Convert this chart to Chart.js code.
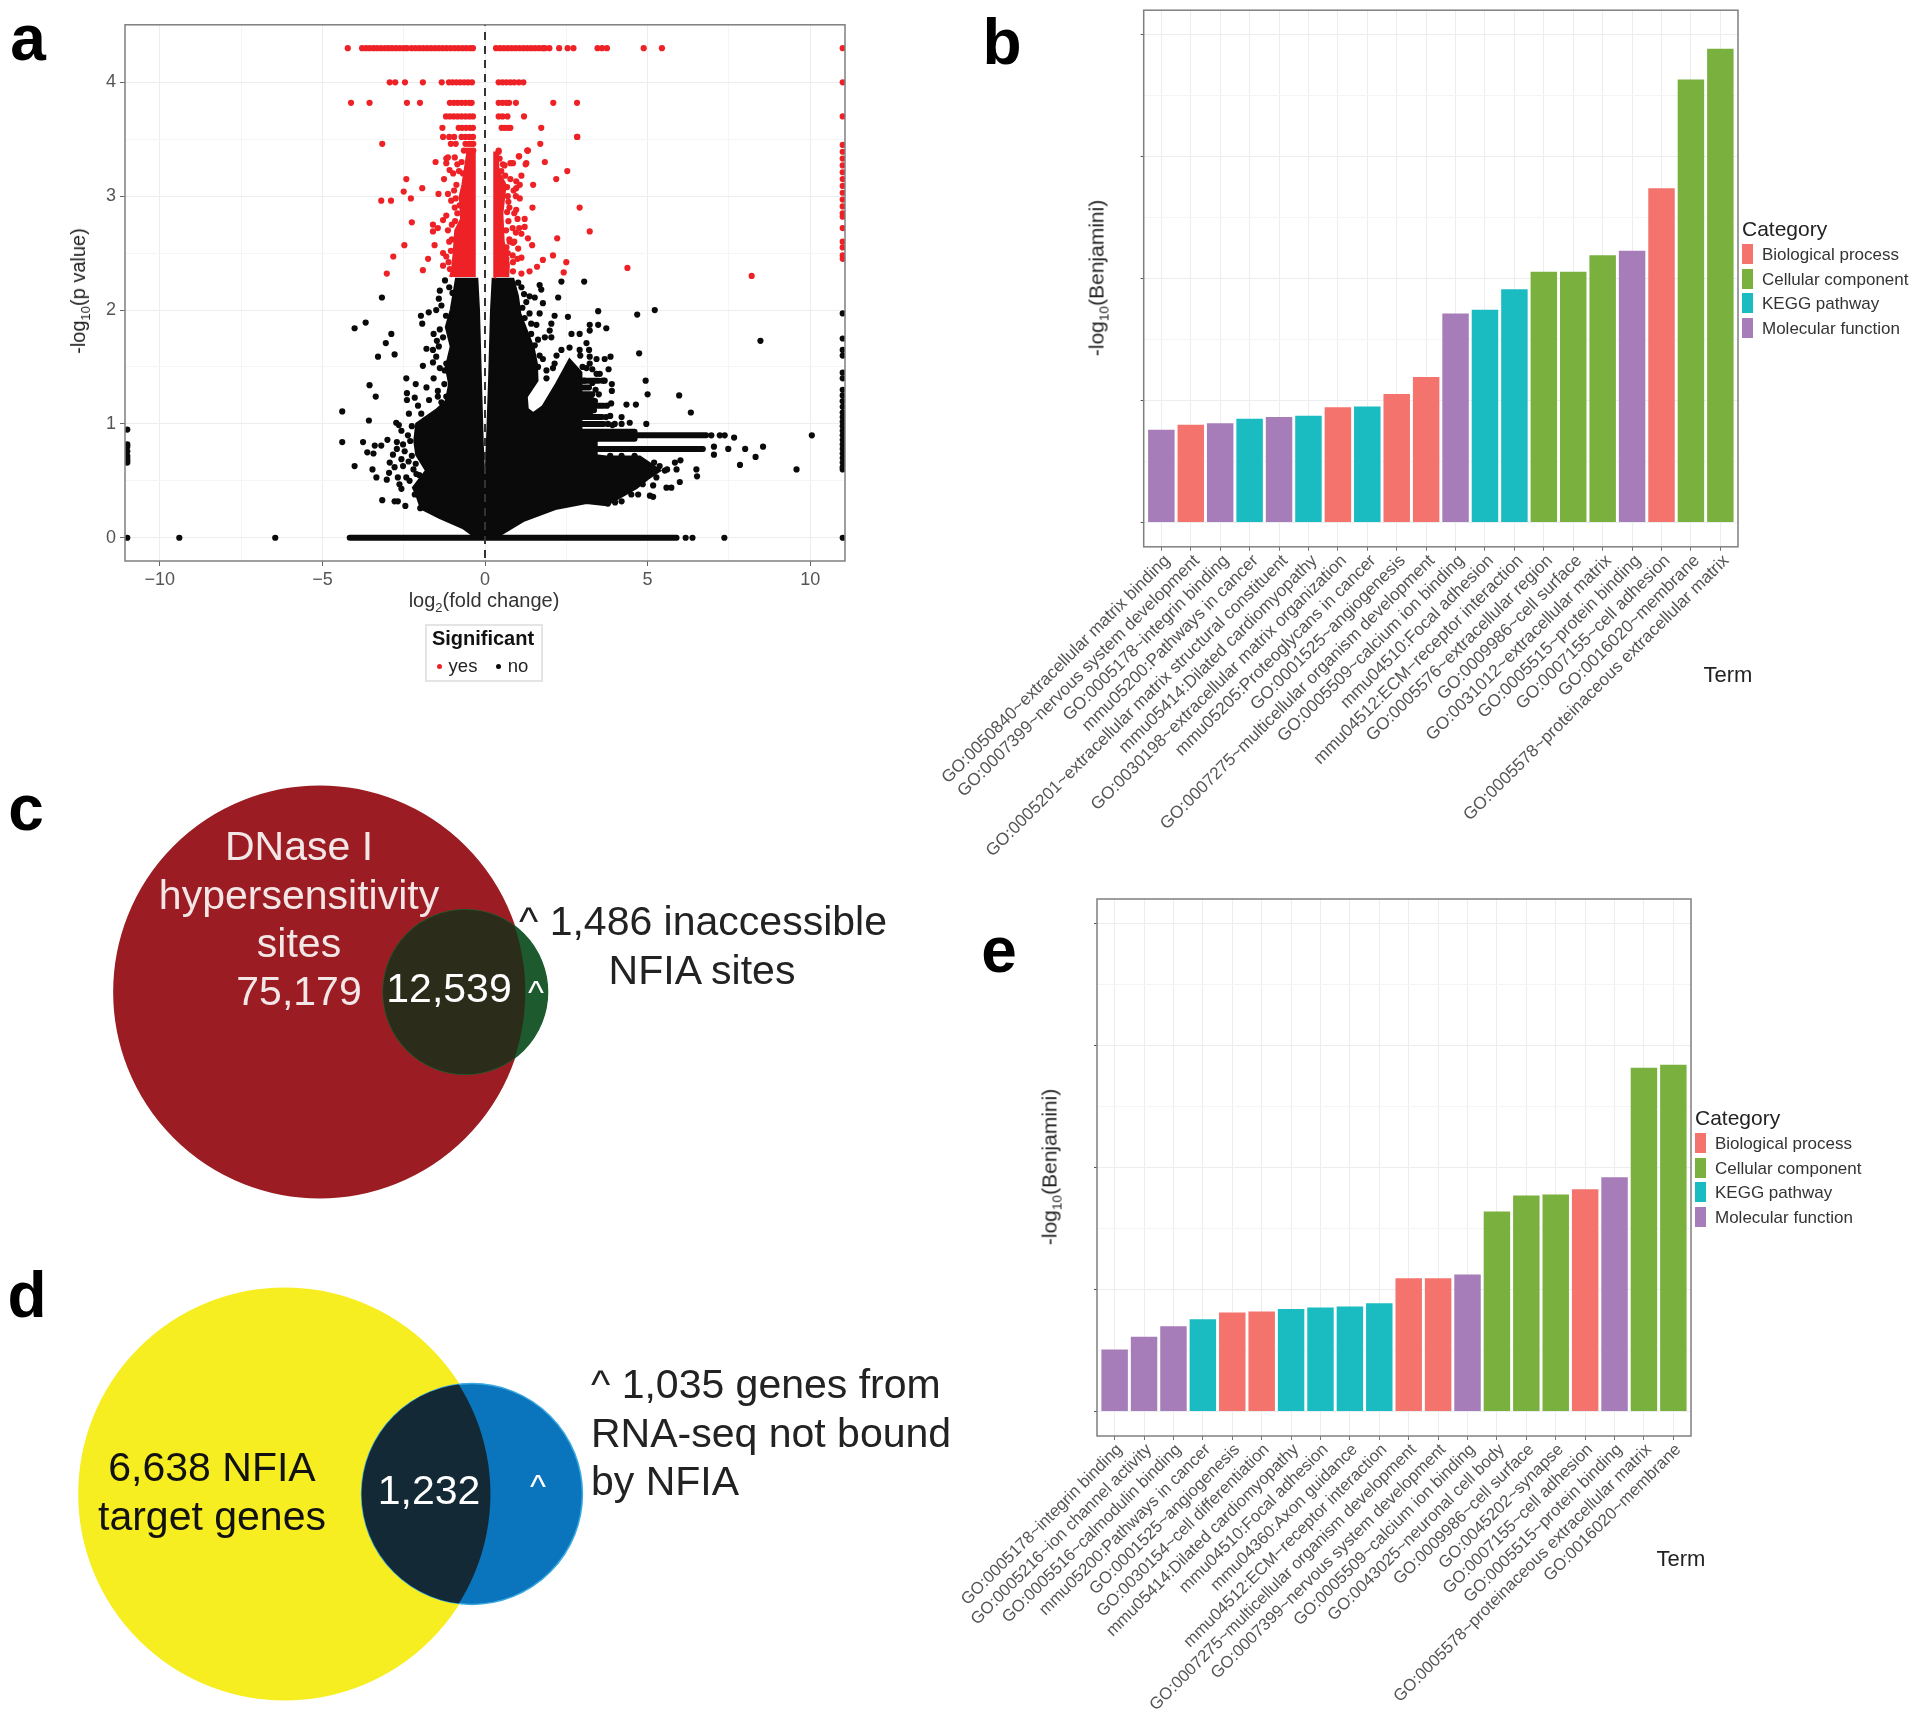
<!DOCTYPE html>
<html>
<head>
<meta charset="utf-8">
<style>
  html, body { margin: 0; padding: 0; background: #fff; }
  body { position: relative; width: 1920px; height: 1723px; overflow: hidden; font-family: "Liberation Sans", Arial, sans-serif; }
  canvas { position: absolute; }
  .txt { position: absolute; white-space: nowrap; line-height: 1; }
  .swatch { position: absolute; width: 11px; height: 20px; }
  .legbox { position: absolute; border: 2px solid #e4e4e4; box-sizing: border-box; }
  .dot { position: absolute; width: 5px; height: 5px; border-radius: 50%; }
</style>
<script src="https://cdn.jsdelivr.net/npm/chart.js@4/dist/chart.umd.min.js"></script>
</head>
<body>
<canvas id="chartA" width="800" height="600" style="left:60px;top:10px"></canvas>
<canvas id="chartB" width="860" height="900" style="left:900px;top:0px"></canvas>
<canvas id="chartE" width="790" height="843" style="left:920px;top:880px"></canvas>
<canvas id="vennC" width="480" height="460" style="left:100px;top:762px"></canvas>
<canvas id="vennD" width="560" height="460" style="left:60px;top:1264px"></canvas>
<script>
// --- panel a: volcano plot, rows of significant genes (x values at one y)
const yesRowYs = [4.3, 4.0, 3.82, 3.7, 3.6, 3.52, 3.46, 3.4];
const yesRows = [
  [-4.22,-3.78,-3.66,-3.55,-3.43,-3.32,-3.2,-3.08,-2.97,-2.86,-2.74,-2.62,-2.5,-2.4,-2.26,-2.14,-2.02,-1.9,-1.78,-1.66,-1.54,-1.42,-1.3,-1.18,-1.06,-.94,-.82,-.7,-.58,-.46,-.37,.34,.46,.58,.7,.82,.94,1.06,1.18,1.3,1.42,1.54,1.66,1.78,1.84,1.98,2.28,2.54,2.72,3.46,3.6,3.75,4.88,5.44],
  [-2.93,-2.76,-2.46,-1.91,-1.33,-1.11,-1,-.88,-.76,-.64,-.52,-.4,.42,.54,.66,.78,.9,1.04,1.18],
  [-4.12,-3.55,-2.4,-2,-1.08,-.96,-.84,-.72,-.6,-.48,-.41,.42,.54,.66,.74,.95,2.1,2.83],
  [-1.2,-1.08,-.96,-.84,-.72,-.6,-.48,-.37,.42,.54,.69,1.2],
  [-1.31,-.81,-.7,-.58,-.46,-.37,.51,.6,.7,.78,1.73],
  [-1.29,-1.1,-.95,-.72,-.6,-.48,-.37,2.83],
  [-3.16,-1.05,-.9,-.6,-.5,-.42,-.36,1.7],
  [-.65,-.55,-.45,-.36,.42,1.3]
];
const yesScatter = [
  [-1.52,3.3],[-2.42,3.15],[-2.5,3.04],[-1.93,3.07],[-2.28,2.98],[-3.19,2.96],[-2.89,2.96],[-1.43,3.02],[-1.26,3.15],[-2.25,2.77],[-1.6,2.75],[-1.29,2.79],[-1.14,2.7],[-1.6,2.69],[-1.19,2.83],[-1.55,2.57],[-2.48,2.57],[-2.82,2.47],[-1.75,2.45],[-1.29,2.5],[-1.19,2.47],[-1.29,2.39],[-1.91,2.35],[-3.02,2.32],
  [-1.19,3.33],[-1.19,3.29],[-1.09,3.23],[-1.14,3.34],[-.93,3.34],[-.98,3.2],[-.88,3.1],[-1.14,3.02],[-1.04,2.96],[-.93,2.9],[-1.45,2.72],[-1.02,2.75],[-1.1,2.6],[-1.12,2.42],[-.85,3.28],[-.72,3.3],[-.8,3.22],[-.68,3.2],[-.95,3.05],[-.9,2.98],[-.85,2.85],[-.78,2.92],[-.92,2.78],[-1.02,2.62],[-1.05,2.52],[-1.08,2.36],
  [.42,3.39],[.45,3.33],[.6,3.27],[.78,3.29],[1.04,3.35],[1.31,3.4],[1.25,3.28],[.86,3.29],[1.27,3.29],[1.32,3.4],[1.05,3.35],[1.12,3.18],[.96,3.13],[1.07,3.1],[.96,3.07],[1.48,3.1],[1.07,2.98],[1.46,2.9],[.96,2.88],[1.22,2.8],[1.22,2.73],[1.12,2.67],[1.32,2.63],[1.45,2.57],[1.02,2.54],[.86,2.59],[.76,2.6],[1.12,2.46],[.86,2.42],[.66,2.45],[.86,2.34],[1.12,2.32],[1.37,2.34],[1.6,2.38],[1.78,2.44],[2.09,2.48],[2.19,3.15],[2.53,3.22],[1.84,3.3],[2.84,3.52],[2.91,2.9],[3.22,2.69],[2.22,2.63],[2.5,2.42],[2.42,2.33],[4.38,2.37],[8.2,2.3],
  [.78,3.15],[.88,3.05],[.7,3.0],[.95,3.0],[.75,2.9],[.9,2.85],[1.0,2.8],[.72,2.78],[.85,2.72],[1.05,2.72],[.95,2.68],[.75,2.62],[.9,2.6],[.7,2.5],[.85,2.48],[1.0,2.45],[.62,3.18],[.68,3.08],[.65,2.7],[.55,3.28],[.5,3.22],[.72,2.95],[.68,2.86],[.66,2.55]
];
const yesEdgeYs = [4.3,4.0,3.7,3.45,3.39,3.33,3.27,3.21,3.15,3.09,3.03,2.97,2.91,2.85,2.82,2.72,2.6,2.55,2.48,2.45];
// filled outline of the solid red columns
const yesCoreLeft = [[-.33,2.29],[-.33,3.4],[-.52,3.4],[-.6,3.25],[-.68,3.1],[-.76,3.0],[-.72,2.8],[-.9,2.7],[-.95,2.5],[-1,2.35],[-1.06,2.29]];
const yesCoreRight = [[.28,2.29],[.3,3.38],[.38,3.38],[.4,3.22],[.62,3.1],[.58,3],[.52,2.85],[.56,2.6],[.72,2.4],[.7,2.29]];
// filled outline of the solid black mass
const noCore = [[0,.44],[.03,.5],[.07,.8],[.14,1.38],[.2,2],[.25,2.27],[.86,2.27],[1,2.12],[1.07,1.97],[1.27,1.82],[1.48,1.67],[1.58,1.53],[1.6,1.38],[1.27,1.24],[1.3,1.13],[1.48,1.09],[1.78,1.15],[2.2,1.35],[2.6,1.56],[2.95,1.45],[2.95,.95],[3.42,.85],[3.42,.72],[3.73,.71],[4.76,.71],[5.37,.59],[5,.52],[4.65,.44],[3.73,.29],[3.12,.31],[2.2,.26],[1.17,.15],[.3,0],[-.32,.015],[-.68,.09],[-1.4,.18],[-1.96,.26],[-2.1,.38],[-2.2,.44],[-1.8,.59],[-2.1,.73],[-2.16,.85],[-2.1,1],[-1.5,1.12],[-1.19,1.2],[-1.09,1.35],[-1.19,1.5],[-1.04,1.68],[-1.19,1.85],[-1.04,2],[-.88,2.27],[-.25,2.27],[-.2,2],[-.14,1.38],[-.08,.8],[-.03,.5]];
// horizontal pile-ups of black points: y, from x, to x
const noStreaks = [[0,-4.16,5.89],[.9,2.7,6.8],[.93,2.7,4.6],[.87,2.7,4.6],[.78,3.42,6.7],[1.38,2.8,3.5],[1.26,2.8,3.3],[1.16,2.7,3.65],[1.06,2.85,3.6],[1,2.8,3.65],[1.32,2.8,3.2],[1.21,2.8,3.3],[1.11,2.8,3.25]];
const noScatter = [
  [-3.17,2.11],[-4.01,1.84],[-3.67,1.89],[-2.88,1.79],[-3.05,1.71],[-3.29,1.59],[-2.78,1.61],[-3.55,1.34],[-3.36,1.24],[-4.39,1.11],[-3.57,1.03],[-4.39,.84],[-3.75,.84],[-3.39,.81],[-3.19,.81],[-3,.86],[-3.62,.75],[-3.43,.74],[-4.01,.63],[-3.46,.6],[-3.34,.53],[-3.02,.51],[-2.95,.57],[-3.16,.33],[-2.78,.32],[-2.68,.32],[-2.45,.28],[-1.99,.26],
  [-2.42,1.4],[-2.13,1.35],[-2.4,1.27],[-2.4,1.21],[-1.8,1.32],[-1.58,1.4],[-1.91,1.51],[-1.45,1.29],[-1.45,1.24],[-2.16,1.23],[-1.72,1.21],[-1.34,1.19],[-1.19,1.24],[-2.34,1.09],[-2.06,1.16],[-1.96,1.09],[-1.86,1.03],[-2.73,1.01],[-2.65,.99],[-2.57,.94],[-2.37,.9],[-2.71,.84],[-2.52,.82],[-2.71,.78],[-2.83,.73],[-2.47,.76],[-2.57,.69],[-2.93,.66],[-2.78,.62],[-2.52,.63],[-2.13,.65],[-2.68,.53],[-2.42,.53],[-2.63,.47],[-2.57,.43],[-2.11,.56],[-2.32,.5],[-2.16,.38],[-2.35,.67],[-2.3,.85],[-2.25,.98],[-2.2,.6],[-2.02,.55],[-2,.47],[-2.25,.72],
  [-1.58,1.79],[-1.39,1.83],[-1.48,1.73],[-1.29,1.76],[-1.42,1.68],[-1.8,1.66],[-1.6,1.65],[-1.5,1.59],[-1.6,1.54],[-1.39,1.49],[-1.19,1.53],[-1.24,1.47],[-1.97,1.95],[-1.93,1.88],[-1.73,1.98],[-1.5,2],[-1.39,2.17],[-1.42,2.1],[-1.34,2.04],[-1.23,2.26],[-1,2.15],[-1.2,1.95],[-1.25,1.35],[-1.1,2.2],
  [2.35,2.25],[3.05,2.25],[2.25,2.11],[3.48,1.99],[4.68,1.96],[5.22,2],[8.47,1.73],[2.55,1.94],[2.14,1.95],[2.04,1.88],[1.99,1.82],[2.04,1.76],[1.84,1.76],[3.22,1.87],[3.48,1.87],[3.73,1.84],[3.22,1.82],[3.12,1.71],[2.66,1.79],[2.91,1.79],[1.68,2.22],[1.73,2.18],[1.53,2.11],[1.37,2.12],[1.78,2.06],[1.27,2.07],[1.68,1.97],[1.37,1.97],[1.42,1.88],[1.58,1.87],[1.42,1.79],[1.63,1.74],[1.53,1.69],[1.12,2.2],[1.02,2.24],[1.2,2.14],[1.22,1.93],[1.15,2.02],
  [2.2,1.6],[2.35,1.65],[2.6,1.67],[2.14,1.53],[2.09,1.49],[2.91,1.65],[2.93,1.6],[3.2,1.65],[3.22,1.59],[3.43,1.57],[3.68,1.57],[3.86,1.59],[3.22,1.53],[3.12,1.49],[3.43,1.44],[3.8,1.48],[3.53,1.44],[3.68,1.38],[3.9,1.35],[3.9,1.29],[1.68,1.6],[1.78,1.57],[1.63,1.5],[1.89,1.47],[1.89,1.4],[3,1.5],[3.3,1.48],[3.05,1.38],[3.62,1.38],[3.5,1.26],[3.4,1.3],[3.75,1.16],[3.88,1.18],[3.72,1.06],[3.85,1.07],[3.78,1.0],[3.92,.99],[3.3,1.36],[3.38,1.2],[3.35,1.12],
  [4.94,1.38],[5,1.26],[5.97,1.25],[6.33,1.1],[4.74,1.62],[4.35,1.17],[4.64,1.17],[4.2,1.06],[4.45,1.01],[4.2,1],[3.99,1],[4.96,1],
  [6.96,.9],[7.22,.9],[7.37,.9],[7.66,.88],[7.04,.8],[7.48,.78],[8,.78],[8.55,.8],[7.04,.73],[8.32,.71],[7.84,.64],[10.05,.9],[9.58,.6],
  [5.84,.66],[6.01,.68],[5.89,.6],[6.5,.6],[6.52,.54],[5.99,.49],[5.58,.44],[5.73,.44],[5.17,.46],[5.07,.37],[5.17,.36],[4.71,.38],[4.2,.32],[3.78,.3],[5.37,.63],[5.53,.59],[5.27,.53],[4.91,.53],[5.1,.6],[4.9,.66],[5.6,.6],[4.5,.38],[4,.31],[4.35,.42],[4.85,.47],[5.2,.66],[4.6,.72],[4.2,.72],[3.85,.72]
];
const noEdgeRightYs = [1.97,1.75,1.65,1.6,1.45,1.4,1.3,1.25,1.2,1.15,1.1,1.06,1.02,.98,.94,.9,.86,.82,.78,.74,.7,.66,.62,.6,0];
const noEdgeLeftYs = [.95,.82,.8,.76,.72,.7,.68,.66,0];
const noLoneX = [-9.4,-6.45,6.17,6.38,7.36];
const volcanoXTicks = [-10,-7.5,-5,-2.5,0,2.5,5,7.5,10];
const volcanoYTicks = [0,.5,1,1.5,2,2.5,3,3.5,4];

// --- panels b and e: enrichment bars
const catNames = ["Biological process","Cellular component","KEGG pathway","Molecular function"];
const catColors = { B: "#f4736d", C: "#7ab03e", K: "#1abcc2", M: "#a67db8" };
const termsB = ["GO:0050840~extracellular matrix binding","GO:0007399~nervous system development","GO:0005178~integrin binding","mmu05200:Pathways in cancer","GO:0005201~extracellular matrix structural constituent","mmu05414:Dilated cardiomyopathy","GO:0030198~extracellular matrix organization","mmu05205:Proteoglycans in cancer","GO:0001525~angiogenesis","GO:0007275~multicellular organism development","GO:0005509~calcium ion binding","mmu04510:Focal adhesion","mmu04512:ECM\u2212receptor interaction","GO:0005576~extracellular region","GO:0009986~cell surface","GO:0031012~extracellular matrix","GO:0005515~protein binding","GO:0007155~cell adhesion","GO:0016020~membrane","GO:0005578~proteinaceous extracellular matrix"];
const valuesB = [.76,.801,.813,.851,.865,.874,.944,.95,1.053,1.193,1.713,1.743,1.912,2.056,2.056,2.19,2.228,2.74,3.632,3.883];
const catsB = ["M","B","M","K","M","K","B","K","B","B","M","K","K","C","C","C","M","B","C","C"];
const termsE = ["GO:0005178~integrin binding","GO:0005216~ion channel activity","GO:0005516~calmodulin binding","mmu05200:Pathways in cancer","GO:0001525~angiogenesis","GO:0030154~cell differentiation","mmu05414:Dilated cardiomyopathy","mmu04510:Focal adhesion","mmu04360:Axon guidance","mmu04512:ECM\u2212receptor interaction","GO:0007275~multicellular organism development","GO:0007399~nervous system development","GO:0005509~calcium ion binding","GO:0043025~neuronal cell body","GO:0009986~cell surface","GO:0045202~synapse","GO:0007155~cell adhesion","GO:0005515~protein binding","GO:0005578~proteinaceous extracellular matrix","GO:0016020~membrane"];
const valuesE = [.508,.614,.699,.756,.811,.82,.841,.853,.862,.887,1.092,1.092,1.123,1.64,1.77,1.779,1.821,1.921,2.817,2.841];
const catsE = ["M","M","M","K","B","B","K","K","K","K","B","B","M","C","C","C","B","M","C","C"];
const benjaminiTicks = [0,.5,1,1.5,2,2.5,3,3.5,4];

// --- panels c and d: area-proportional Venn diagrams (set sizes)
const vennCSizes = [87718, 14025];
const vennCX = [0, 145.7];
const vennDSizes = [7870, 2267];
const vennDX = [0, 187.3];

const FONT = '"Liberation Sans", Arial, sans-serif';
const GRID_MAJOR = "#ebeef0";
const GRID_MINOR = "#f4f5f6";
const TICK_TEXT = "#555";
const BOX = "#7f7f7f";

Chart.defaults.font.family = FONT;
Chart.defaults.animation = false;

// ggplot style panel border
const panelBox = {
  id: "panelBox",
  afterDraw(chart) {
    const { ctx, chartArea: a } = chart;
    ctx.save();
    ctx.strokeStyle = BOX;
    ctx.lineWidth = 1.5;
    ctx.strokeRect(a.left, a.top, a.right - a.left, a.bottom - a.top);
    ctx.restore();
  },
};

function xy(pairs) {
  return pairs.map(([x, y]) => ({ x, y }));
}

function shape(pairs, color) {
  return { data: xy(pairs), showLine: true, fill: "shape", backgroundColor: color, borderColor: color, borderWidth: 3, pointRadius: 0 };
}

function dots(points, color) {
  return { data: points, showLine: false, backgroundColor: color, borderWidth: 0, pointRadius: 3.1 };
}

const yesPoints = [];
yesRows.forEach((xs, i) => xs.forEach((x) => yesPoints.push({ x, y: yesRowYs[i] })));
const streakPoints = [];
noStreaks.forEach(([y, a, b]) => streakPoints.push({ x: a, y }, { x: b, y }, { x: NaN, y: NaN }));

new Chart(document.getElementById("chartA"), {
  type: "scatter",
  data: {
    datasets: [
      { data: [{ x: 0, y: -0.3 }, { x: 0, y: 4.6 }], showLine: true, borderColor: "#333", borderWidth: 2, borderDash: [8, 6], pointRadius: 0 },
      dots(yesPoints, "#ee2226"),
      dots(xy(yesScatter), "#ee2226"),
      dots(yesEdgeYs.map((y) => ({ x: 11, y })), "#ee2226"),
      shape(yesCoreLeft, "#ee2226"),
      shape(yesCoreRight, "#ee2226"),
      dots(xy(noScatter), "#0a0a0a"),
      dots(noEdgeRightYs.map((y) => ({ x: 11, y })), "#0a0a0a"),
      dots(noEdgeLeftYs.map((y) => ({ x: -11, y })), "#0a0a0a"),
      dots(noLoneX.map((x) => ({ x, y: 0 })), "#0a0a0a"),
      { data: streakPoints, showLine: true, borderColor: "#0a0a0a", borderWidth: 6, borderCapStyle: "round", pointRadius: 0, spanGaps: false },
      shape(noCore, "#0a0a0a"),
    ],
  },
  options: {
    responsive: false,
    layout: { autoPadding: false, padding: { top: 14.5, right: 15 } },
    plugins: { legend: { display: false }, tooltip: { enabled: false } },
    scales: {
      x: {
        type: "linear", min: -11.07, max: 11.07,
        afterBuildTicks: (s) => { s.ticks = volcanoXTicks.map((value) => ({ value })); },
        afterFit: (s) => { s.height = 49; },
        border: { display: false },
        grid: {
          color: (c) => (c.tick.value % 5 === 0 ? GRID_MAJOR : GRID_MINOR),
          tickColor: (c) => (c.tick.value % 5 === 0 ? "#666" : "transparent"),
          tickLength: 5,
        },
        ticks: {
          autoSkip: false, maxRotation: 0, minRotation: 0, color: TICK_TEXT, font: { size: 18 }, padding: 3,
          callback: (v) => (v % 5 === 0 ? String(v).replace("-", "\u2212") : ""),
        },
      },
      y: {
        type: "linear", min: -0.204, max: 4.505,
        afterBuildTicks: (s) => { s.ticks = volcanoYTicks.map((value) => ({ value })); },
        afterFit: (s) => { s.width = 65; },
        border: { display: false },
        grid: {
          color: (c) => (c.tick.value % 1 === 0 ? GRID_MAJOR : GRID_MINOR),
          tickColor: (c) => (c.tick.value % 1 === 0 ? "#666" : "transparent"),
          tickLength: 5,
        },
        ticks: {
          autoSkip: false, color: TICK_TEXT, font: { size: 18 }, padding: 4,
          callback: (v) => (v % 1 === 0 ? String(v) : ""),
        },
      },
    },
  },
  plugins: [panelBox],
});

function enrichmentChart(id, terms, values, cats, areaLeft, areaTop, xHeight, right, labelSize, labelShift) {
  return new Chart(document.getElementById(id), {
    type: "bar",
    data: {
      datasets: [{
        data: values.map((y, i) => ({ x: i + 1, y })),
        backgroundColor: cats.map((c) => catColors[c]),
        barPercentage: 0.9,
        categoryPercentage: 1,
      }],
    },
    options: {
      responsive: false,
      layout: { autoPadding: false, padding: { top: areaTop, right } },
      plugins: { legend: { display: false }, tooltip: { enabled: false } },
      scales: {
        x: {
          type: "linear", min: 0.4, max: 20.6, offset: false,
          afterBuildTicks: (s) => { s.ticks = terms.map((_, i) => ({ value: i + 1 })); },
          afterFit: (s) => { s.height = xHeight; },
          border: { display: false },
          grid: { offset: false, color: GRID_MAJOR, tickColor: "#777", tickLength: 4 },
          ticks: {
            autoSkip: false, minRotation: 45, maxRotation: 45, color: TICK_TEXT, font: { size: labelSize }, padding: 0, labelOffset: labelShift,
            callback: (v) => terms[v - 1],
          },
        },
        y: {
          type: "linear", min: -0.2, max: 4.2,
          afterBuildTicks: (s) => { s.ticks = benjaminiTicks.map((value) => ({ value })); },
          afterFit: (s) => { s.width = areaLeft; },
          border: { display: false },
          grid: {
            color: (c) => (c.tick.value % 1 === 0 ? GRID_MAJOR : GRID_MINOR),
            tickColor: (c) => (c.tick.value % 1 === 0 ? "#555" : "transparent"),
            tickLength: 3,
          },
          ticks: { callback: () => "" },
        },
      },
    },
    plugins: [panelBox],
  });
}
enrichmentChart("chartB", termsB, valuesB, catsB, 243.7, 10, 353.2, 22, 17.3, 6);
enrichmentChart("chartE", termsE, valuesE, catsE, 177, 19, 287, 19, 16.8, 5);

// overlap of the two circles, clipped to the big one
function vennOverlap(color) {
  return {
    id: "vennOverlap",
    afterDatasetsDraw(chart) {
      const [a, b] = chart.getDatasetMeta(0).data;
      const { ctx } = chart;
      ctx.save();
      ctx.beginPath();
      ctx.arc(a.x, a.y, a.options.radius, 0, Math.PI * 2);
      ctx.clip();
      ctx.beginPath();
      ctx.arc(b.x, b.y, b.options.radius, 0, Math.PI * 2);
      ctx.fillStyle = color;
      ctx.fill();
      ctx.restore();
    },
  };
}

function vennChart(id, sizes, xs, unit, xMin, colors, edge, overlap) {
  const canvas = document.getElementById(id);
  return new Chart(canvas, {
    type: "bubble",
    data: {
      datasets: [{
        data: sizes.map((n, i) => ({ x: xs[i], y: 0, r: Math.sqrt(n) * unit })),
        backgroundColor: colors,
        borderColor: edge,
        borderWidth: 1.5,
        clip: false,
      }],
    },
    options: {
      responsive: false,
      layout: { autoPadding: false },
      plugins: { legend: { display: false }, tooltip: { enabled: false } },
      scales: {
        x: { type: "linear", display: false, min: xMin, max: xMin + canvas.width },
        y: { type: "linear", display: false, min: -230, max: 230 },
      },
    },
    plugins: [vennOverlap(overlap)],
  });
}
vennChart("vennC", vennCSizes, vennCX, 0.6945, -219.6, ["#9b1c22", "#1d5a2e"], ["#9b1c22", "#1d5a2e"], "#2c2c1a");
vennChart("vennD", vennDSizes, vennDX, 2.319, -224.7, ["#f6ee20", "#0a75bc"], ["#f6ee20", "#3aa9e0"], "#132936");

// --- text that sits outside the plots
function text(html, x, y, size, opts = {}) {
  const el = document.createElement("div");
  el.className = "txt";
  el.innerHTML = html;
  el.style.left = x + "px";
  el.style.top = y + "px";
  el.style.fontSize = size + "px";
  el.style.color = opts.color || "#000";
  if (opts.weight) el.style.fontWeight = opts.weight;
  const anchor = opts.left ? "0" : "-50%";
  el.style.transform = `translate(${anchor},-50%)` + (opts.rotate ? ` rotate(${opts.rotate}deg)` : "");
  document.body.appendChild(el);
}

const panelLetters = [["a", 28, 38], ["b", 1002, 42], ["c", 26, 808], ["d", 27, 1295], ["e", 999, 950]];
panelLetters.forEach(([t, x, y]) => text(t, x, y, 64, { weight: "bold" }));

const SUB = (s) => `<sub style="font-size:.65em;line-height:0">${s}</sub>`;
text(`log${SUB(2)}(fold change)`, 484, 600, 20, { color: "#333" });
text(`-log${SUB(10)}(p value)`, 78, 291, 20, { color: "#222", rotate: -90 });
text(`-log${SUB(10)}(Benjamini)`, 1096, 278, 21, { color: "#222", rotate: -90 });
text(`-log${SUB(10)}(Benjamini)`, 1049, 1167, 21, { color: "#222", rotate: -90 });
text("Term", 1728, 675, 22, { color: "#222" });
text("Term", 1681, 1559, 22, { color: "#222" });

// panel a legend
const box = document.createElement("div");
box.className = "legbox";
box.style.cssText = "left:425px;top:624px;width:118px;height:58px";
document.body.appendChild(box);
text("Significant", 483, 638, 20, { weight: "bold", color: "#111" });
text("yes", 463, 666, 18.5, { color: "#222" });
text("no", 518, 666, 18.5, { color: "#222" });
[["#ee2226", 437], ["#0a0a0a", 496]].forEach(([c, x]) => {
  const d = document.createElement("div");
  d.className = "dot";
  d.style.cssText = `left:${x}px;top:664px;background:${c}`;
  document.body.appendChild(d);
});

// category legends of b and e
function catLegend(x, titleY, ys) {
  text("Category", x, titleY, 21, { left: true, color: "#222" });
  catNames.forEach((name, i) => {
    const s = document.createElement("div");
    s.className = "swatch";
    s.style.left = x + "px";
    s.style.top = ys[i] - 10 + "px";
    s.style.background = catColors[["B", "C", "K", "M"][i]];
    document.body.appendChild(s);
    text(name, x + 20, ys[i], 17, { left: true, color: "#333" });
  });
}
catLegend(1742, 228, [254, 279, 303, 328]);
catLegend(1695, 1117, [1143, 1168, 1192, 1217]);

// panel c
const W = "#fff";
text("DNase I", 299, 846, 41, { color: "#f3e6e6" });
text("hypersensitivity", 299, 895, 41, { color: "#f3e6e6" });
text("sites", 299, 943, 41, { color: "#f3e6e6" });
text("75,179", 299, 991, 41, { color: "#f3e6e6" });
text("12,539", 449, 988, 41, { color: W });
text("^", 536, 992, 34, { color: W });
text("^ 1,486 inaccessible", 519, 921, 41, { left: true, color: "#222" });
text("NFIA sites", 702, 970, 41, { color: "#222" });
// panel d
text("6,638 NFIA", 212, 1467, 41, { color: "#111" });
text("target genes", 212, 1516, 41, { color: "#111" });
text("1,232", 429, 1490, 41, { color: W });
text("^", 538, 1486, 34, { color: W });
text("^ 1,035 genes from", 591, 1384, 41, { left: true, color: "#222" });
text("RNA-seq not bound", 591, 1433, 41, { left: true, color: "#222" });
text("by NFIA", 591, 1481, 41, { left: true, color: "#222" });
</script>
</body>
</html>
